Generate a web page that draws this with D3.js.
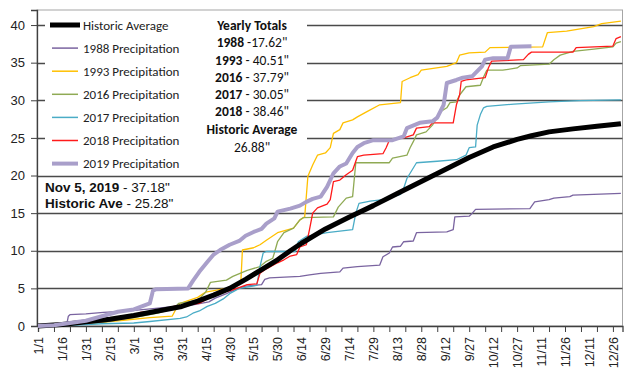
<!DOCTYPE html>
<html><head><meta charset="utf-8">
<script src="https://cdn.jsdelivr.net/npm/d3@7"></script>
<style>body{margin:0;background:#fff}svg{display:block}</style>
</head><body>
<svg id="c" width="640" height="388"></svg>
<script>
// ---- data (day index from 1/1, cumulative inches) ----
const xLabels = ["1/1","1/16","1/31","2/15","3/1","3/16","3/31","4/15","4/30","5/15","5/30","6/14","6/29","7/14","7/29","8/13","8/28","9/12","9/27","10/12","10/27","11/11","11/26","12/11","12/26"];
const yTicks = [0,5,10,15,20,25,30,35,40];
const seriesNames = ["Historic Average","1988 Precipitation","1993 Precipitation","2016 Precipitation","2017 Precipitation","2018 Precipitation","2019 Precipitation"];
const histAvg = [[0,0],[15,0.2],[30,0.55],[45,0.9],[60,1.4],[75,2.0],[90,2.6],[100,3.3],[110,4.1],[120,5.0],[130,6.2],[140,7.5],[150,8.8],[158,10.0],[165,11.0],[180,12.9],[195,14.5],[210,16.0],[225,17.6],[240,19.2],[255,20.8],[270,22.4],[285,23.8],[300,24.8],[309,25.28],[320,25.8],[335,26.2],[350,26.55],[365,26.88]];
const p1988 = [[0,0],[18,0.2],[19,1.3],[20,1.5],[30,1.6],[41,1.8],[57,2.0],[72,2.3],[86,2.6],[97,2.8],[107,3.2],[111,3.7],[118,4.3],[125,5.0],[130,5.3],[140,5.5],[142,6.2],[145,6.4],[164,6.6],[170,6.8],[177,7.0],[189,7.2],[191,7.7],[200,7.9],[214,8.1],[216,9.2],[220,9.7],[222,10.5],[227,10.6],[229,11.2],[235,11.3],[237,12.4],[256,12.5],[260,12.8],[261,14.5],[270,14.6],[272,15.0],[274,15.5],[308,15.6],[311,16.5],[320,16.8],[323,17.0],[333,17.2],[335,17.4],[365,17.62]];
const p1993 = [[0,0],[20,0.2],[40,0.5],[55,0.8],[70,1.1],[84,1.3],[87,2.5],[89,3.0],[100,3.8],[105,4.5],[118,5.0],[122,5.3],[127,5.8],[128,10.1],[135,10.4],[139,10.8],[143,11.4],[150,12.4],[160,13.0],[164,14.1],[167,14.5],[169,19.9],[172,21.4],[175,22.7],[180,23.0],[183,23.7],[185,25.6],[189,26.1],[191,27.0],[197,27.4],[200,27.8],[206,28.5],[214,29.4],[227,29.7],[228,32.5],[233,33.0],[238,33.4],[240,34.0],[256,34.5],[262,35.0],[264,36.0],[270,36.3],[280,36.4],[283,37.0],[316,37.1],[319,39.0],[331,39.2],[348,39.8],[353,40.2],[365,40.51]];
const p2016 = [[0,0],[20,0.2],[40,0.5],[60,1.1],[75,1.7],[85,2.3],[88,3.0],[100,3.4],[105,4.5],[108,5.8],[118,6.1],[122,6.6],[131,7.4],[139,7.9],[143,8.6],[147,9.0],[148,9.7],[150,11.2],[154,12.4],[160,13.0],[164,14.1],[166,14.4],[185,14.5],[188,15.8],[193,17.0],[197,17.2],[199,21.7],[220,21.7],[222,22.3],[231,22.7],[233,23.7],[235,24.5],[237,25.4],[243,25.8],[247,26.7],[252,28.5],[256,29.0],[258,29.7],[262,29.8],[264,30.7],[268,31.8],[277,32.0],[279,33.1],[281,34.0],[291,34.0],[300,34.3],[302,34.6],[320,34.8],[323,35.4],[327,36.0],[335,36.5],[348,36.8],[360,37.1],[362,37.6],[365,37.79]];
const p2017 = [[0,0],[20,0.1],[40,0.3],[60,0.4],[70,0.6],[89,1.0],[93,1.2],[97,1.7],[101,2.0],[106,2.6],[111,3.0],[116,3.6],[120,4.3],[126,5.0],[137,5.4],[139,7.9],[141,9.7],[143,9.9],[161,9.9],[163,11.2],[168,11.9],[181,12.4],[197,12.8],[199,15.0],[201,16.3],[208,16.6],[216,16.8],[227,17.5],[229,18.3],[231,19.6],[233,20.3],[237,21.7],[250,21.9],[262,22.1],[268,22.7],[270,23.7],[274,23.8],[275,26.7],[277,28.1],[279,29.0],[281,29.2],[298,29.5],[320,29.8],[339,29.95],[365,30.05]];
const p2018 = [[0,0],[20,0.2],[40,0.6],[55,1.0],[62,1.3],[64,1.8],[81,2.1],[85,2.6],[101,3.0],[110,4.1],[114,4.4],[122,4.8],[131,5.5],[137,5.6],[139,7.0],[143,7.6],[150,8.4],[154,8.8],[158,9.3],[162,9.5],[164,10.5],[168,10.8],[170,12.8],[172,15.0],[175,15.7],[181,16.2],[183,16.8],[185,19.2],[189,19.4],[193,20.1],[197,20.7],[200,22.5],[204,22.7],[216,22.9],[218,23.7],[220,24.7],[229,25.0],[235,25.4],[237,26.3],[245,26.5],[247,27.0],[260,27.0],[262,29.4],[264,30.7],[265,32.5],[268,32.7],[280,33.0],[282,34.3],[284,35.2],[304,35.4],[307,36.1],[309,36.4],[335,36.4],[337,37.0],[360,37.2],[362,38.2],[365,38.46]];
const p2019 = [[0,0],[10,0.1],[20,0.4],[30,0.7],[40,1.3],[50,1.9],[60,2.2],[65,2.6],[70,3.0],[72,4.7],[74,4.9],[94,5.0],[97,6.0],[101,7.2],[106,8.5],[110,9.5],[114,10.1],[120,10.8],[126,11.3],[130,12.0],[135,12.5],[140,12.9],[143,13.6],[148,14.3],[150,15.2],[158,15.6],[164,16.0],[168,16.5],[172,16.9],[177,17.2],[181,18.5],[185,20.3],[189,21.2],[193,21.6],[197,23.0],[200,23.8],[204,24.3],[210,24.7],[222,24.7],[229,25.2],[231,26.3],[239,27.0],[247,27.2],[250,27.7],[254,29.4],[256,32.3],[262,32.7],[266,33.0],[272,33.2],[278,34.5],[280,35.4],[285,35.6],[294,35.6],[296,37.1],[309,37.18]];
const totalsYears = ["1988","1993","2016","2017","2018"];
const totalsValues = ["17.62\"","40.51\"","37.79\"","30.05\"","38.46\""];
const histTotal = "26.88\"";

const svg = d3.select("#c");
const x = d3.scaleLinear().domain([0,366]).range([38,622.5]);
const y = d3.scaleLinear().domain([0,42]).range([326,10]);
const AR = "'Liberation Sans', Arial, sans-serif";
const CAL = "Carlito, Lato, 'Open Sans', sans-serif";

// plot border
svg.append("rect").attr("x",x(0)-1).attr("y",y(42)).attr("width",x(366)-x(0)+1).attr("height",y(0)-y(42))
  .attr("fill","none").attr("stroke","#a6a6a6").attr("stroke-width",1);
// gridlines
svg.append("g").selectAll("line").data(yTicks.filter(d=>d>0)).join("line")
  .attr("x1",x(0)-1).attr("x2",x(366)).attr("y1",d=>Math.round(y(d))+0.5).attr("y2",d=>Math.round(y(d))+0.5)
  .attr("stroke","#4a4a4a").attr("stroke-width",1.3);

// legend white box (covers gridlines)
svg.append("rect").attr("x",45).attr("y",12).attr("width",262).attr("height",160).attr("fill","#fff");

// axes
const yAx = svg.append("g").attr("transform",`translate(${x(0)-1},0)`)
  .call(d3.axisLeft(y).tickValues(yTicks).tickSize(6).tickPadding(6));
yAx.select(".domain").attr("stroke","#404040").attr("stroke-width",1.3);
yAx.selectAll(".tick line").attr("stroke","#404040");
yAx.selectAll("text").attr("font-family",AR).attr("font-size",13).attr("fill","#222");

const xAxT = svg.append("g").attr("transform",`translate(0,${y(0)})`)
  .call(d3.axisBottom(x).tickValues(d3.range(0,366,10)).tickSize(6).tickFormat(""));
xAxT.select(".domain").attr("stroke","#404040").attr("stroke-width",1.3);
xAxT.selectAll(".tick line").attr("stroke","#404040");
const xAxL = svg.append("g").attr("transform",`translate(0,${y(0)})`)
  .call(d3.axisBottom(x).tickValues(xLabels.map((d,i)=>i*15)).tickSize(0).tickFormat((d,i)=>xLabels[i]));
xAxL.select(".domain").remove();
xAxL.selectAll("text").attr("font-family",AR).attr("font-size",12.5).attr("fill","#222")
  .attr("text-anchor","end").attr("transform","rotate(-90)").attr("x",-11).attr("y",0).attr("dy","0.35em");

// lines
const line = d3.line().x(d=>x(d[0])).y(d=>y(d[1]));
const draw = (data,color,w)=>svg.append("path").datum(data).attr("d",line).attr("fill","none")
  .attr("stroke",color).attr("stroke-width",w).attr("stroke-linejoin","round");
const styles = [
  {d:histAvg,c:"#000000",w:5},
  {d:p1988,c:"#7a64a0",w:1.3},
  {d:p1993,c:"#ffc000",w:1.3},
  {d:p2016,c:"#8faa54",w:1.3},
  {d:p2017,c:"#4aacc6",w:1.3},
  {d:p2018,c:"#ff1a1a",w:1.3},
  {d:p2019,c:"#a99fca",w:4}
];
[1,2,3,4,5,0,6].forEach(i=>draw(styles[i].d,styles[i].c,styles[i].w));

// legend
const lg = svg.append("g");
seriesNames.forEach((n,i)=>{
  const yy = 25 + i*23.1;
  const s = styles[i];
  lg.append("line").attr("x1",i===0?50:52).attr("x2",i===0?80:78).attr("y1",yy).attr("y2",yy)
    .attr("stroke",s.c).attr("stroke-width",s.w>2?s.w:1.5);
  lg.append("text").attr("x",83).attr("y",yy).attr("dy","0.35em").attr("font-family",CAL)
    .attr("font-size",13).attr("fill","#222").text(n);
});

// yearly totals
const tt = svg.append("g").attr("font-family",CAL).attr("font-size",13.5).attr("fill","#111").attr("text-anchor","middle");
tt.append("text").attr("x",252).attr("y",25).attr("dy","0.35em").attr("font-weight","bold").text("Yearly Totals");
totalsYears.forEach((yr,i)=>{
  const t = tt.append("text").attr("x",252).attr("y",42.5+i*17.3).attr("dy","0.35em");
  t.append("tspan").attr("font-weight","bold").text(yr);
  t.append("tspan").text((i===0?" -":" - ")+totalsValues[i]);
});
tt.append("text").attr("x",252).attr("y",129.5).attr("dy","0.35em").attr("font-weight","bold").text("Historic Average");
tt.append("text").attr("x",252).attr("y",147).attr("dy","0.35em").text(histTotal);

// annotation
const an = svg.append("g").attr("font-family",AR).attr("font-size",13.5).attr("fill","#111");
const a1 = an.append("text").attr("x",45).attr("y",187).attr("dy","0.35em");
a1.append("tspan").attr("font-weight","bold").text("Nov 5, 2019");
a1.append("tspan").text(" - 37.18\"");
const a2 = an.append("text").attr("x",45).attr("y",203).attr("dy","0.35em");
a2.append("tspan").attr("font-weight","bold").text("Historic Ave");
a2.append("tspan").text(" - 25.28\"");
</script>
</body></html>
